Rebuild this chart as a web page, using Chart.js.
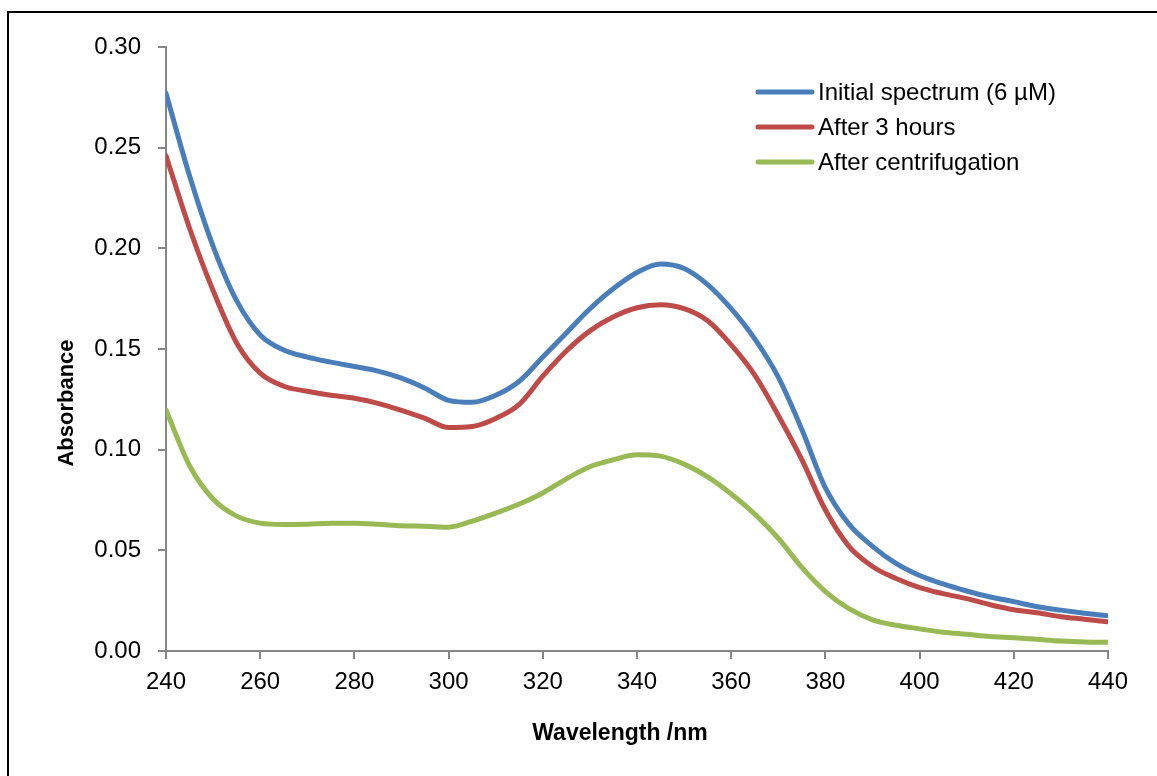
<!DOCTYPE html>
<html>
<head>
<meta charset="utf-8">
<script src="https://cdn.jsdelivr.net/npm/chart.js@4.4.1/dist/chart.umd.min.js"></script>
<style>
  html, body { margin: 0; padding: 0; background: #ffffff; overflow: hidden; }
  #wrap { position: relative; width: 1157px; height: 776px; overflow: hidden; }
  #frame { position: absolute; left: 7px; top: 11px; width: 1200px; height: 820px;
           border: 2px solid #000; box-sizing: border-box; pointer-events: none; }
  canvas { position: absolute; left: 0; top: 0; }
</style>
</head>
<body>
<div id="wrap">
  <canvas id="spectra" width="1157" height="776"></canvas>
  <div id="frame"></div>
</div>
<script>
// Wavelength grid (nm)
const wavelengths = [240, 245, 250, 255, 260, 265, 270, 275, 280, 285,
                     290, 295, 300, 305, 310, 315, 320, 325, 330, 335,
                     340, 345, 350, 355, 360, 365, 370, 375, 380, 385,
                     390, 395, 400, 405, 410, 415, 420, 425, 430, 435, 440];

// Absorbance readings
const initialSpectrum = [0.277, 0.236, 0.201, 0.174, 0.157, 0.1495, 0.146, 0.1435, 0.1413, 0.139,
                         0.1355, 0.1305, 0.1245, 0.1235, 0.127, 0.134, 0.146, 0.158, 0.170, 0.180,
                         0.188, 0.1922, 0.190, 0.182, 0.170, 0.155, 0.136, 0.110, 0.081, 0.063,
                         0.052, 0.0435, 0.0375, 0.0333, 0.0298, 0.0268, 0.0245, 0.022, 0.0203, 0.0188, 0.0175];

const after3Hours = [0.246, 0.210, 0.179, 0.153, 0.138, 0.1315, 0.129, 0.127, 0.1255, 0.123,
                     0.1195, 0.1155, 0.111, 0.1115, 0.1155, 0.1225, 0.1365, 0.149, 0.159, 0.166,
                     0.1705, 0.172, 0.170, 0.164, 0.152, 0.137, 0.117, 0.095, 0.070, 0.052,
                     0.042, 0.036, 0.0315, 0.0285, 0.026, 0.023, 0.0205, 0.019, 0.017, 0.0158, 0.0145];

const afterCentrifugation = [0.1197, 0.092, 0.0755, 0.067, 0.0635, 0.0628, 0.063, 0.0635, 0.0635, 0.063,
                             0.0622, 0.062, 0.0615, 0.0645, 0.0685, 0.073, 0.0785, 0.0855, 0.0915, 0.095,
                             0.0975, 0.0968, 0.0928, 0.0865, 0.078, 0.068, 0.056, 0.0415, 0.0295, 0.021,
                             0.0155, 0.0128, 0.011, 0.0093, 0.0083, 0.0072, 0.0066, 0.0058, 0.005, 0.0045, 0.0043];

const seriesNames = ['Initial spectrum (6 \u00b5M)', 'After 3 hours', 'After centrifugation'];
const seriesColors = ['#4a7ebb', '#be4b48', '#98b954'];

const xTickValues = [240, 260, 280, 300, 320, 340, 360, 380, 400, 420, 440];
const yTickValues = [0, 0.05, 0.10, 0.15, 0.20, 0.25, 0.30];

const xTitle = 'Wavelength /nm';
const yTitle = 'Absorbance';

const FONT = '"Liberation Sans", Arial, sans-serif';
const AXIS_GREY = '#868686';

function toPoints(values) {
  return values.map((v, i) => ({ x: wavelengths[i], y: v }));
}

const seriesValues = [initialSpectrum, after3Hours, afterCentrifugation];

const datasets = seriesValues.map((vals, i) => ({
  label: seriesNames[i],
  data: toPoints(vals),
  borderColor: seriesColors[i],
  backgroundColor: seriesColors[i],
  borderWidth: 5,
  pointRadius: 0,
  fill: false,
  cubicInterpolationMode: 'monotone',
  borderCapStyle: 'round',
  borderJoinStyle: 'round'
}));

// Legend inside the plot area, top right
const insideLegend = {
  id: 'insideLegend',
  afterDraw(chart) {
    const ctx = chart.ctx;
    const area = chart.chartArea;
    const x0 = area.left + 592;
    const y0 = area.top + 45;
    const rowGap = 35;
    ctx.save();
    ctx.font = '24px ' + FONT;
    ctx.textBaseline = 'middle';
    ctx.textAlign = 'left';
    chart.data.datasets.forEach((ds, i) => {
      const y = y0 + i * rowGap;
      ctx.strokeStyle = ds.borderColor;
      ctx.lineWidth = 5;
      ctx.lineCap = 'round';
      ctx.beginPath();
      ctx.moveTo(x0, y);
      ctx.lineTo(x0 + 54, y);
      ctx.stroke();
      ctx.fillStyle = '#000';
      ctx.fillText(ds.label, x0 + 60, y + 1);
    });
    ctx.restore();
  }
};

// Bold axis titles
const axisTitles = {
  id: 'axisTitles',
  afterDraw(chart) {
    const ctx = chart.ctx;
    const area = chart.chartArea;
    ctx.save();
    ctx.fillStyle = '#000';
    ctx.font = 'bold 23px ' + FONT;
    ctx.textAlign = 'center';
    ctx.textBaseline = 'alphabetic';
    ctx.fillText(xTitle, area.left + 454, area.bottom + 89);
    ctx.translate(area.left - 93, area.top + 356);
    ctx.rotate(-Math.PI / 2);
    ctx.font = 'bold 22px ' + FONT;
    ctx.fillText(yTitle, 0, 0);
    ctx.restore();
  }
};

new Chart(document.getElementById('spectra'), {
  type: 'line',
  data: { datasets },
  options: {
    responsive: false,
    animation: false,
    events: [],
    layout: { padding: { left: 0, top: 47, right: 49, bottom: 0 } },
    plugins: {
      legend: { display: false },
      tooltip: { enabled: false },
      title: { display: false }
    },
    scales: {
      x: {
        type: 'linear',
        min: 240,
        max: 440,
        afterBuildTicks(scale) { scale.ticks = xTickValues.map(v => ({ value: v })); },
        afterFit(scale) { scale.height = 125; },
        border: { display: true, color: AXIS_GREY, width: 2 },
        grid: { display: true, drawOnChartArea: false, drawTicks: true, tickLength: 8, color: AXIS_GREY, lineWidth: 2 },
        ticks: {
          color: '#000',
          font: { family: FONT, size: 24 },
          padding: 9,
          maxRotation: 0,
          autoSkip: false,
          callback: v => String(v)
        }
      },
      y: {
        type: 'linear',
        min: 0,
        max: 0.3,
        afterBuildTicks(scale) { scale.ticks = yTickValues.map(v => ({ value: v })); },
        afterFit(scale) { scale.width = 166; },
        border: { display: true, color: AXIS_GREY, width: 2 },
        grid: { display: true, drawOnChartArea: false, drawTicks: true, tickLength: 8, color: AXIS_GREY, lineWidth: 2 },
        ticks: {
          color: '#000',
          font: { family: FONT, size: 24 },
          padding: 17,
          autoSkip: false,
          callback: v => Number(v).toFixed(2)
        }
      }
    }
  },
  plugins: [insideLegend, axisTitles]
});
</script>
</body>
</html>
